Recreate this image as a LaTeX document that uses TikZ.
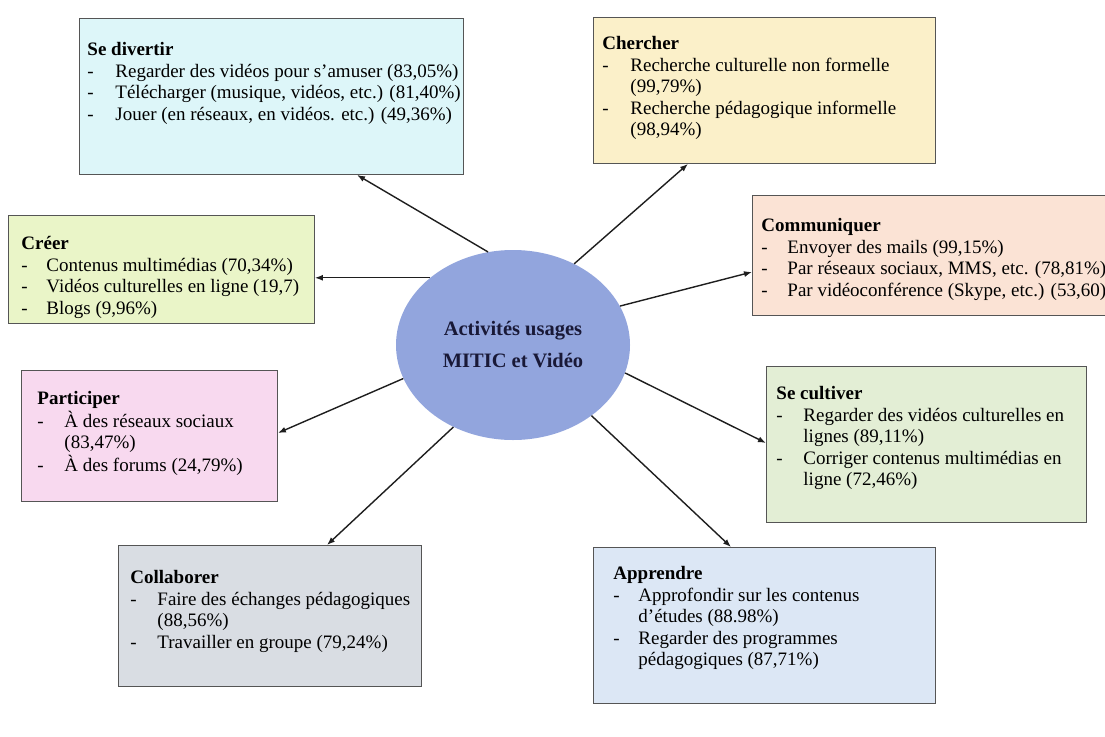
\documentclass[tikz,border=0pt]{standalone}
\usepackage{fontspec}
\setmainfont{Liberation Serif}
\usetikzlibrary{arrows.meta,shapes.geometric}

% width, height, top pad, left pad, dash column, rows
\newcommand{\fiche}[6]{%
  \parbox[c][#2pt][t]{#1pt}{\vspace*{#3pt}\hspace*{#4pt}%
    \begin{tabular}[t]{@{}p{#5pt}@{}l@{}}#6\end{tabular}}}
\newcommand{\titre}[1]{\multicolumn{2}{@{}l@{}}{\textbf{#1}}}

\begin{document}
\begin{tikzpicture}[x=1pt,y=-1pt,
    boite/.style={draw=bord,line width=0.9pt,inner sep=0pt,anchor=north west,
      font=\fontsize{19}{21.5}\selectfont},
    fleche/.style={draw=trait,line width=1.4pt,-{Latex[length=8pt,width=6pt]}}]
    \definecolor{bord}{RGB}{85,85,85}
    \definecolor{trait}{RGB}{30,30,30}
    \definecolor{centre}{RGB}{146,165,221}
    \definecolor{texte}{RGB}{25,25,55}
    \definecolor{divertir}{RGB}{221,246,249}
    \definecolor{chercher}{RGB}{251,240,201}
    \definecolor{creer}{RGB}{234,245,200}
    \definecolor{communiquer}{RGB}{251,227,213}
    \definecolor{participer}{RGB}{248,217,239}
    \definecolor{cultiver}{RGB}{227,238,213}
    \definecolor{collaborer}{RGB}{217,221,227}
    \definecolor{apprendre}{RGB}{220,231,245}
    \useasboundingbox (0,0) rectangle (1105,736);
    \clip (0,0) rectangle (1105,736);
    \fill[white] (0,0) rectangle (1105,736);

    \node[ellipse,fill=centre,minimum width=234pt,minimum height=190pt,inner sep=0pt,
      align=center,text=texte,font=\bfseries\fontsize{20.5}{32}\selectfont]
      (centre) at (513,345) {Activités usages\\MITIC et Vidéo};

    \node[boite,fill=divertir] (divertir) at (79,18) {\fiche{384}{156}{22}{8}{28}{%
      \titre{Se divertir}\\
      - & Regarder des vidéos pour s’amuser (83,05\%)\\
      - & Télécharger (musique, vidéos, etc.) (81,40\%)\\
      - & Jouer (en réseaux, en vidéos. etc.) (49,36\%)}};
    \node[boite,fill=chercher] (chercher) at (593,17) {\fiche{342}{146}{17}{9}{28}{%
      \titre{Chercher}\\
      - & Recherche culturelle non formelle\\
        & (99,79\%)\\
      - & Recherche pédagogique informelle\\
        & (98,94\%)}};
    \node[boite,fill=creer] (creer) at (8,215) {\fiche{306}{108}{19}{13}{25}{%
      \titre{Créer}\\
      - & Contenus multimédias (70,34\%)\\
      - & Vidéos culturelles en ligne (19,7)\\
      - & Blogs (9,96\%)}};
    \node[boite,fill=communiquer] (communiquer) at (752,195) {\fiche{360}{120}{21}{9}{26}{%
      \titre{Communiquer}\\
      - & Envoyer des mails (99,15\%)\\
      - & Par réseaux sociaux, MMS, etc. (78,81\%)\\
      - & Par vidéoconférence (Skype, etc.) (53,60)}};
    \node[boite,fill=participer] (participer) at (21,370) {\fiche{256}{131}{19}{16}{27}{%
      \titre{Participer}\\
      - & À des réseaux sociaux\\
        & (83,47\%)\\
      - & À des forums (24,79\%)}};
    \node[boite,fill=cultiver] (cultiver) at (766,366) {\fiche{320}{156}{18}{10}{27}{%
      \titre{Se cultiver}\\
      - & Regarder des vidéos culturelles en\\
        & lignes (89,11\%)\\
      - & Corriger contenus multimédias en\\
        & ligne (72,46\%)}};
    \node[boite,fill=collaborer] (collaborer) at (118,545) {\fiche{303}{141}{23}{12}{27}{%
      \titre{Collaborer}\\
      - & Faire des échanges pédagogiques\\
        & (88,56\%)\\
      - & Travailler en groupe (79,24\%)}};
    \node[boite,fill=apprendre] (apprendre) at (593,547) {\fiche{342}{156}{17}{20}{25}{%
      \titre{Apprendre}\\
      - & Approfondir sur les contenus\\
        & d’études (88.98\%)\\
      - & Regarder des programmes\\
        & pédagogiques (87,71\%)}};

    \draw[fleche] (centre.105) -- ([xshift=278pt]divertir.south west);
    \draw[fleche] (centre.53) -- ([xshift=95pt]chercher.south west);
    \draw[fleche] (centre.141) -- (centre.141 -| creer.east);
    \draw[fleche] (centre.20) -- ([yshift=-77pt]communiquer.north west);
    \draw[fleche] (centre.197) -- ([yshift=-63pt]participer.north east);
    \draw[fleche] (centre.234) -- ([xshift=209pt]collaborer.north west);
    \draw[fleche] (centre.-14) -- ([yshift=-77pt]cultiver.north west);
    \draw[fleche] (centre.-42) -- ([xshift=138pt]apprendre.north west);
  \end{tikzpicture}
\end{document}
